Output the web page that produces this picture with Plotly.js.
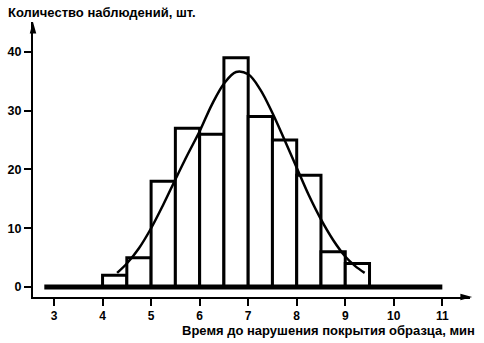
<!DOCTYPE html>
<html><head><meta charset="utf-8">
<script src="https://cdn.plot.ly/plotly-3.0.1.min.js"></script>
<style>html,body{margin:0;padding:0;background:#fff}#c{width:484px;height:343px}</style>
</head><body><div id="c"></div>
<script>
// Histogram bins (centres) and counts
var binCenters = [4.25, 4.75, 5.25, 5.75, 6.25, 6.75, 7.25, 7.75, 8.25, 8.75, 9.25];
var binCounts  = [2, 5, 18, 27, 26, 39, 29, 25, 19, 6, 4];
// Fitted curve points
var curveX = [4.3, 4.5, 4.75, 5, 5.25, 5.5, 5.75, 6, 6.25, 6.5, 6.75, 7, 7.25, 7.5, 7.75, 8, 8.25, 8.5, 8.75, 9, 9.2, 9.4];
var curveY = [2.4, 4.0, 6.6, 10.0, 14.0, 18.3, 22.5, 26.5, 31.0, 34.6, 36.6, 36.2, 33.6, 29.6, 25.0, 20.3, 15.6, 11.5, 8.0, 5.2, 3.6, 2.4];
// Zero baseline extent
var baseX = [2.8, 11];
var baseY = [0, 0];
var xTicks = [3, 4, 5, 6, 7, 8, 9, 10, 11];
var yTicks = [0, 10, 20, 30, 40];

var F = 'Liberation Sans, Arial, sans-serif';
var traces = [
  {type:'bar', x:binCenters, y:binCounts, width:0.5,
   marker:{color:'#fff', line:{color:'#000', width:3}}, hoverinfo:'none'},
  {type:'scatter', mode:'lines', x:baseX, y:baseY, line:{color:'#000', width:5}, hoverinfo:'none'},
  {type:'scatter', mode:'lines', x:curveX, y:curveY, line:{color:'#000', width:2.5, shape:'spline'}, hoverinfo:'none'}
];
var layout = {
  width:484, height:343,
  margin:{l:33, r:14, t:22, b:46},
  paper_bgcolor:'#fff', plot_bgcolor:'#fff',
  showlegend:false,
  font:{family:F, color:'#000'},
  xaxis:{range:[2.567, 11.57], showgrid:false, zeroline:false, showline:true, linewidth:2, linecolor:'#000',
         tickvals:xTicks, ticktext:xTicks.map(String), ticks:'outside', ticklen:7, tickwidth:2, tickcolor:'#000',
         tickfont:{family:F, size:12, weight:'bold'}, fixedrange:true},
  yaxis:{range:[-1.7, 45.1], showgrid:false, zeroline:false, showline:true, linewidth:2, linecolor:'#000',
         tickvals:yTicks, ticktext:yTicks.map(String), ticks:'outside', ticklen:7, tickwidth:2, tickcolor:'#000',
         tickfont:{family:F, size:12.5, weight:'bold'}, fixedrange:true},
  shapes:[
    {type:'path', xref:'paper', yref:'paper', path:'M 0 1.0 L -0.0075 0.958 L 0.0075 0.958 Z', fillcolor:'#000', line:{width:0}},
    {type:'path', xref:'paper', yref:'paper', path:'M 1.005 0 L 0.978 0.012 L 0.978 -0.012 Z', fillcolor:'#000', line:{width:0}}
  ],
  annotations:[
    {text:'Количество наблюдений, шт.', xref:'paper', yref:'paper', x:-0.062, y:1.035, xanchor:'left', yanchor:'middle',
     showarrow:false, font:{family:F, size:13, weight:'bold'}},
    {text:'Время до нарушения покрытия образца, мин', xref:'paper', yref:'paper', x:1.015, y:-0.12, xanchor:'right', yanchor:'middle',
     showarrow:false, font:{family:F, size:13, weight:'bold'}}
  ]
};
Plotly.newPlot('c', traces, layout, {displayModeBar:false, staticPlot:true});
</script></body></html>
